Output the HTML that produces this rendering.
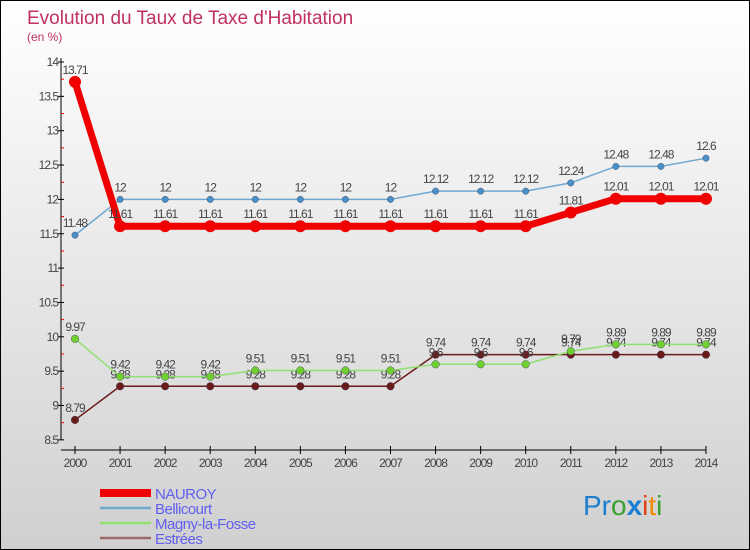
<!DOCTYPE html>
<html><head><meta charset="utf-8"><style>
body{margin:0}
#c{width:750px;height:550px;position:relative;overflow:hidden}
text{font-family:"Liberation Sans",sans-serif}
</style></head><body>
<div id="c">
<svg id="s" width="750" height="550" xmlns="http://www.w3.org/2000/svg">
<defs><linearGradient id="bg" x1="0" y1="0" x2="0" y2="1"><stop offset="0" stop-color="#ffffff"/><stop offset="1" stop-color="#d0d0d0"/></linearGradient></defs>
<rect x="0.5" y="0.5" width="749" height="549" fill="url(#bg)" stroke="#000"/>
<text x="27" y="24" font-size="19" fill="#c03060">Evolution du Taux de Taxe d'Habitation</text>
<text x="27" y="41" font-size="12" fill="#c03060">(en %)</text>
<g id="axes"></g><g id="series"></g><g id="legend"></g>
<text x="583" y="515" font-size="28"><tspan fill="#1a7fd0">Pr</tspan><tspan fill="#3aa030">o</tspan><tspan fill="#1a7fd0" font-weight="bold">x</tspan><tspan fill="#e04010">i</tspan><tspan fill="#f08a00">t</tspan><tspan fill="#3aa030">i</tspan></text>
</svg></div>
<script>
const years=[2000,2001,2002,2003,2004,2005,2006,2007,2008,2009,2010,2011,2012,2013,2014];
const nauroy=[13.71,11.61,11.61,11.61,11.61,11.61,11.61,11.61,11.61,11.61,11.61,11.81,12.01,12.01,12.01];
const bellicourt=[11.48,12,12,12,12,12,12,12,12.12,12.12,12.12,12.24,12.48,12.48,12.6];
const magny=[9.97,9.42,9.42,9.42,9.51,9.51,9.51,9.51,9.6,9.6,9.6,9.79,9.89,9.89,9.89];
const estrees=[8.79,9.28,9.28,9.28,9.28,9.28,9.28,9.28,9.74,9.74,9.74,9.74,9.74,9.74,9.74];
const yTicks=[8.5,9,9.5,10,10.5,11,11.5,12,12.5,13,13.5,14];
const names=["NAUROY","Bellicourt","Magny-la-Fosse","Estrées"];
const NS="http://www.w3.org/2000/svg";
const xS=i=>75+i*45.07;
const yS=v=>62+(14-v)*68.7;
function mk(p,t,a){const e=document.createElementNS(NS,t);for(const k in a)e.setAttribute(k,a[k]);p.appendChild(e);return e;}
const ax=document.getElementById('axes');
const yl=mk(ax,'line',{x1:61,y1:58,x2:61,y2:440,stroke:'#000'});


const xl=mk(ax,'line',{x1:61,y1:450,x2:706,y2:450,stroke:'#000'});


yTicks.forEach(v=>{
  mk(ax,'line',{x1:58,y1:yS(v),x2:64,y2:yS(v),stroke:'#000'});
  if(v<14)mk(ax,'line',{x1:61,y1:yS(v+0.25),x2:64,y2:yS(v+0.25),stroke:'#e00'});
  const t=mk(ax,'text',{x:58,y:yS(v)+4,'font-size':12,'text-anchor':'end',fill:'#444','letter-spacing':'-1'});
  t.textContent=v;
  
  
});
years.forEach((y,i)=>{
  mk(ax,'line',{x1:xS(i),y1:446,x2:xS(i),y2:454,stroke:'#000'});
  const t=mk(ax,'text',{x:xS(i),y:467,'font-size':12,'text-anchor':'middle',fill:'#444','letter-spacing':'-1'});
  t.textContent=y;
  
  
});
const defs=[[estrees,'#6b1a1a','#6b1a1a',1.5,3.8],[magny,'#90e070','#70d030',1.5,3.8],[bellicourt,'#70a8d0','#4890c8',1.5,3.2],[nauroy,'#f00000','#f00000',7,6]];
const sg=document.getElementById('series');
defs.forEach(([d,lc,pc,w,r],k)=>{
  const g=mk(sg,'g',{});
  
  
  mk(g,'polyline',{points:d.map((v,i)=>xS(i)+','+yS(v)).join(' '),fill:'none',stroke:lc,'stroke-width':w});
  d.forEach((v,i)=>{
    const c=mk(g,'circle',{cx:xS(i),cy:yS(v),r:r,fill:pc,stroke:k==3?'none':'#335','stroke-width':0.4});
    
    
    const t=mk(g,'text',{x:xS(i),y:yS(v)-8,'font-size':12,'text-anchor':'middle',fill:'#444','letter-spacing':'-1'});
    t.textContent=String(v);
    
    
  });
});
const lg=document.getElementById('legend');
const lcol=['#f00000','#70a8d0','#90e070','#9a6a6a'],lw=[8,2.5,2.5,2.5];
names.forEach((n,i)=>{
  const y=493+i*15;
  const g=mk(lg,'g',{});
  
  
  mk(g,'line',{x1:100,y1:y,x2:151,y2:y,stroke:lcol[i],'stroke-width':lw[i]});
  const t=mk(g,'text',{x:155,y:y+6,'font-size':15,fill:'#6060f0','letter-spacing':'-0.5'});
  t.textContent=n;
});
</script>
</body></html>
